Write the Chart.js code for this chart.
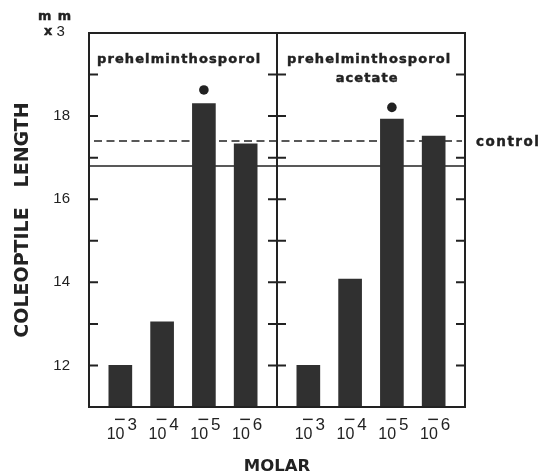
<!DOCTYPE html>
<html>
<head>
<meta charset="utf-8">
<script src="https://cdn.jsdelivr.net/npm/chart.js@4.4.1/dist/chart.umd.min.js"></script>
<style>
  html, body { margin: 0; padding: 0; background: #fff; }
  #wrap { width: 541px; height: 471px; position: relative; }
</style>
</head>
<body>
<div id="wrap"><canvas id="chart"></canvas></div>
<script>
// molar concentrations, shown as 10^exponent
const exponents = [-3, -4, -5, -6];
// coleoptile length (mm x3)
const plainLengths = [12.0, 13.05, 18.3, 17.33];
const acetateLengths = [12.0, 14.08, 17.93, 17.52];
// dots over the significant bars
const plainMarks = [null, null, 18.63, null];
const acetateMarks = [null, null, 18.21, null];
const controlLength = 17.4;   // dashed line, "control"
const solidLength = 16.8;     // solid reference line
const yMin = 11, yMax = 20;
const yLabelled = [12, 14, 16, 18];

const ink = "#222";
const barInk = "#303030";
const slotsPerPanel = 9; // gap, bar, gap, bar, gap, bar, gap, bar, gap

// put 4 values of a panel into the 18 half-width slots of the x axis
function spread(values, panel) {
    const out = new Array(slotsPerPanel * 2).fill(null);
    values.forEach((v, i) => { out[panel * slotsPerPanel + 1 + 2 * i] = v; });
    return out;
}

const slotExps = spread(exponents, 0).map((v, i) => v ?? spread(exponents, 1)[i]);
const tickLabels = slotExps.map(e => e === null ? "" : "10^" + e);

// bold text with a thin outline so it reads as heavy as the print
function heavyText(ctx, text, x, y) {
    ctx.fillText(text, x, y);
    ctx.strokeText(text, x, y);
}

const decor = {
    id: "decor",
    beforeDatasetsDraw(chart) {
        const {ctx, chartArea: a, scales: {y}} = chart;
        ctx.save();
        ctx.strokeStyle = ink;
        ctx.lineWidth = 1.6;
        let py = y.getPixelForValue(solidLength);
        ctx.beginPath(); ctx.moveTo(a.left, py); ctx.lineTo(a.right, py); ctx.stroke();
        py = y.getPixelForValue(controlLength);
        ctx.setLineDash([8, 4.5]);
        ctx.beginPath(); ctx.moveTo(a.left + 5, py); ctx.lineTo(a.right - 3, py); ctx.stroke();
        ctx.restore();
    },
    afterDatasetsDraw(chart) {
        const {ctx, chartArea: a, scales: {x, y}} = chart;
        const mid = (x.getPixelForValue(slotsPerPanel - 1) + x.getPixelForValue(slotsPerPanel)) / 2;
        ctx.save();
        ctx.strokeStyle = ink;
        ctx.fillStyle = ink;
        ctx.lineWidth = 2;
        ctx.strokeRect(a.left, a.top, a.right - a.left, a.bottom - a.top);
        ctx.beginPath();
        ctx.moveTo(mid, a.top); ctx.lineTo(mid, a.bottom);
        y.ticks.forEach(t => {
            if (t.value <= yMin || t.value >= yMax) return;
            const py = y.getPixelForValue(t.value);
            ctx.moveTo(a.left, py); ctx.lineTo(a.left + 9, py);
            ctx.moveTo(mid - 9, py); ctx.lineTo(mid + 9, py);
            ctx.moveTo(a.right - 9, py); ctx.lineTo(a.right, py);
        });
        ctx.stroke();

        // x tick labels: 10 with a raised exponent
        ctx.textAlign = "left";
        ctx.textBaseline = "alphabetic";
        slotExps.forEach((e, i) => {
            if (e === null) return;
            const cx = x.getPixelForValue(i) + 1.5;
            ctx.font = "16px 'Liberation Sans'";
            const w10 = ctx.measureText("10").width;
            ctx.font = "17px 'Liberation Sans'";
            const digit = String(-e);
            const wd = ctx.measureText(digit).width;
            const sx = cx - (w10 + 3 + wd) / 2;
            const base = a.bottom + 32;
            ctx.font = "16px 'Liberation Sans'";
            ctx.fillText("10", sx, base);
            ctx.font = "17px 'Liberation Sans'";
            ctx.fillText(digit, sx + w10 + 3, base - 9.5);
            ctx.font = "20px 'Liberation Sans'";
            ctx.fillText("\u2212", sx + w10 - 10.5, base - 13.5);
        });

        // panel titles
        ctx.lineWidth = 0.45;
        ctx.font = "bold 13px 'DejaVu Sans'";
        ctx.letterSpacing = "1.1px";
        heavyText(ctx, "prehelminthosporol", a.left + 8, a.top + 30);
        const w1 = ctx.measureText("prehelminthosporol").width;
        heavyText(ctx, "prehelminthosporol", mid + 10, a.top + 30);
        ctx.textAlign = "center";
        heavyText(ctx, "acetate", mid + 10 + w1 / 2 - 2, a.top + 48.7);

        // control label
        ctx.textAlign = "left";
        ctx.font = "bold 13.5px 'DejaVu Sans'";
        ctx.letterSpacing = "1.5px";
        heavyText(ctx, "control", a.right + 11, y.getPixelForValue(controlLength) + 5);

        // unit label
        ctx.font = "bold 12.8px 'DejaVu Sans'";
        ctx.letterSpacing = "1px";
        heavyText(ctx, "m m", 38, 20);
        ctx.letterSpacing = "0px";
        heavyText(ctx, "x", 44, 35);
        ctx.font = "15px 'Liberation Sans'";
        ctx.fillText("3", 56.5, 36);
        ctx.restore();
    }
};

new Chart(document.getElementById("chart"), {
    data: {
        labels: tickLabels,
        datasets: [
            {
                type: "line", label: "significant", data: spread(plainMarks, 0),
                showLine: false, pointRadius: 4.8, pointBackgroundColor: ink,
                pointBorderWidth: 0, order: 0
            },
            {
                type: "line", label: "significant acetate", data: spread(acetateMarks, 1),
                showLine: false, pointRadius: 4.8, pointBackgroundColor: ink,
                pointBorderWidth: 0, order: 0
            },
            {
                type: "bar", label: "prehelminthosporol", data: spread(plainLengths, 0),
                backgroundColor: barInk, barThickness: 23, grouped: false, order: 1
            },
            {
                type: "bar", label: "prehelminthosporol acetate", data: spread(acetateLengths, 1),
                backgroundColor: barInk, barThickness: 23, grouped: false, order: 1
            }
        ]
    },
    options: {
        responsive: true,
        maintainAspectRatio: false,
        animation: false,
        events: [],
        layout: { padding: { top: 33, right: 76, left: 0, bottom: 0 } },
        plugins: { legend: { display: false }, tooltip: { enabled: false } },
        scales: {
            x: {
                type: "category",
                offset: true,
                grid: { display: false, drawTicks: false },
                border: { display: false },
                ticks: { display: false },
                title: {
                    display: true, text: "MOLAR", color: ink,
                    font: { family: "DejaVu Sans", weight: "bold", size: 16.5, lineHeight: 1 },
                    padding: { top: 0, bottom: -3.5 }
                },
                afterFit(s) { s.height = 64; }
            },
            y: {
                min: yMin,
                max: yMax,
                grid: { display: false, drawTicks: false },
                border: { display: false },
                ticks: {
                    stepSize: 1, autoSkip: false, padding: 19, color: ink,
                    font: { family: "Liberation Sans", size: 15 },
                    callback: v => yLabelled.includes(v) ? String(v) : ""
                },
                title: {
                    display: true, text: "COLEOPTILE   LENGTH", color: ink,
                    font: { family: "DejaVu Sans", weight: "bold", size: 19, lineHeight: 1 },
                    padding: { top: 13.5, bottom: 0 }
                },
                afterFit(s) { s.width = 89; }
            }
        }
    },
    plugins: [decor]
});
</script>
</body>
</html>
